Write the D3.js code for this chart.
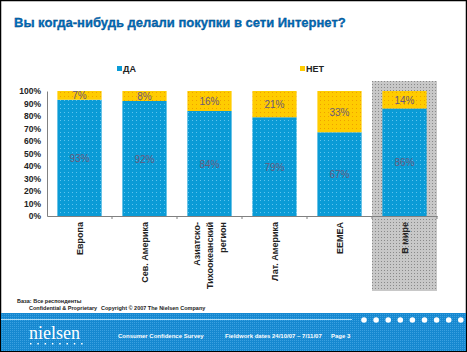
<!DOCTYPE html>
<html><head><meta charset="utf-8">
<script src="https://cdn.jsdelivr.net/npm/d3@7"></script>
<style>body{margin:0;background:#fff}svg{display:block}</style>
</head><body>
<svg id="c" width="467" height="352"></svg>
<script>
const categories = [["Европа"],["Сев. Америка"],["Азиатско-","Тихоокеанский","регион"],["Лат. Америка"],["ЕЕМЕА"],["В мире"]];
const catKeys = ["Европа","Сев. Америка","АТР","Лат. Америка","ЕЕМЕА","В мире"];
const yesValues = [93,92,84,79,67,86];
const noValues = [7,8,16,21,33,14];
const seriesNames = ["ДА","НЕТ"];
const yTicks = [0,10,20,30,40,50,60,70,80,90,100];

const svg = d3.select("#c");
const defs = svg.append("defs");
function dotPattern(id, bg, dot, size){
  const p = defs.append("pattern").attr("id",id).attr("width",size).attr("height",size).attr("patternUnits","userSpaceOnUse");
  p.append("rect").attr("width",size).attr("height",size).attr("fill",bg);
  p.append("rect").attr("x",0).attr("y",0).attr("width",1).attr("height",1).attr("fill",dot);
}
dotPattern("pBlue","#0a9bd6","#5cc4ee",4);
dotPattern("pYellow","#ffcc00","#f0a000",4);
dotPattern("pGrey","#c8c8c8","#8a8a8a",3);
dotPattern("pFoot","#1688d0","#3aa0e0",2);

// border
svg.append("rect").attr("x",0.5).attr("y",0.5).attr("width",466).attr("height",351).attr("fill","none").attr("stroke","#000").attr("stroke-width",1.5);

// title
svg.append("text").attr("x",14).attr("y",27).text("Вы когда-нибудь делали покупки в сети Интернет?")
  .attr("font-family","Arial, Liberation Sans, sans-serif").attr("font-size",13).attr("font-weight","bold")
  .attr("fill","#0070c0").attr("stroke","#003a70").attr("stroke-width",0.3);

const x = d3.scaleBand().domain(catKeys).range([47,437]).paddingInner(0.32).paddingOuter(0.16);
const y = d3.scaleLinear().domain([0,100]).range([216,91]);

// grey highlight for last category
const step = x.step();
const lastStart = x(catKeys[5]) - x.bandwidth()*0.0 - (step - x.bandwidth())/2;
svg.append("rect").attr("x",372).attr("y",81).attr("width",437-372).attr("height",210).attr("fill","url(#pGrey)");

// legend
const leg = svg.append("g").attr("font-family","Arial, Liberation Sans, sans-serif").attr("font-size",9).attr("font-weight","bold").attr("fill","#222");
[[117,"#0a9bd6",seriesNames[0]],[300,"#ffcc00",seriesNames[1]]].forEach(([lx,col,t])=>{
  leg.append("rect").attr("x",lx).attr("y",66).attr("width",5).attr("height",5).attr("fill",col);
  leg.append("text").attr("x",lx+6).attr("y",72).text(t);
});

// bars
const g = svg.append("g");
catKeys.forEach((k,i)=>{
  const bx = x(k), bw = x.bandwidth();
  g.append("rect").attr("x",bx).attr("y",y(yesValues[i])).attr("width",bw).attr("height",y(0)-y(yesValues[i])).attr("fill","url(#pBlue)");
  g.append("rect").attr("x",bx).attr("y",y(100)).attr("width",bw).attr("height",y(yesValues[i])-y(100)).attr("fill","url(#pYellow)");
  g.append("text").attr("x",bx+bw/2).attr("y",(y(yesValues[i])+y(0))/2+4).attr("text-anchor","middle")
    .attr("font-family","Arial, Liberation Sans, sans-serif").attr("font-size",10).attr("fill","#6a5a7a").text(yesValues[i]+"%");
  g.append("text").attr("x",bx+bw/2).attr("y",(y(yesValues[i])+y(100))/2+4).attr("text-anchor","middle")
    .attr("font-family","Arial, Liberation Sans, sans-serif").attr("font-size",10).attr("fill","#6a5a7a").text(noValues[i]+"%");
});

// y axis
const yAxis = svg.append("g").attr("transform","translate(47,0)")
  .call(d3.axisLeft(y).tickValues(yTicks).tickFormat(d=>d+"%").tickSize(0).tickPadding(6));
yAxis.select(".domain").attr("stroke","#808080");
yAxis.selectAll("text").attr("font-family","Arial, Liberation Sans, sans-serif").attr("font-size",8.5).attr("font-weight","bold").attr("fill","#222");

// x axis
const xAxis = svg.append("g").attr("transform","translate(0,216)")
  .call(d3.axisBottom(x).tickSize(0).tickFormat(""));
xAxis.select(".domain").attr("stroke","#808080");
catKeys.forEach((k,i)=>{
  if(i>0){
    const tx = x(k) - (step - x.bandwidth())/2;
    svg.append("line").attr("x1",tx).attr("x2",tx).attr("y1",216).attr("y2",219).attr("stroke","#808080");
  }
});
svg.append("line").attr("x1",437).attr("x2",437).attr("y1",216).attr("y2",219).attr("stroke","#808080");

// x labels rotated
catKeys.forEach((k,i)=>{
  const lines = categories[i];
  const cx = x(k)+x.bandwidth()/2;
  const n = lines.length, lh = 13;
  lines.forEach((ln,j)=>{
    const lx = cx + (j-(n-1)/2)*lh + 3;
    svg.append("text").attr("transform",`translate(${lx},222) rotate(-90)`).attr("text-anchor","end")
      .attr("font-family","Arial, Liberation Sans, sans-serif").attr("font-size",9).attr("font-weight","bold").attr("fill","#222").text(ln);
  });
});

// footnotes
const fn = svg.append("g").attr("font-family","Arial, Liberation Sans, sans-serif").attr("font-size",5.5).attr("font-weight","bold").attr("fill","#222");
fn.append("text").attr("x",17).attr("y",303).text("База: Все респонденты");
fn.append("text").attr("x",29).attr("y",310).text("Confidential & Proprietary");
fn.append("text").attr("x",101).attr("y",310).text("Copyright © 2007 The Nielsen Company");

// footer band
svg.append("rect").attr("x",1).attr("y",313).attr("width",465).attr("height",38).attr("fill","url(#pFoot)");
svg.append("line").attr("x1",1).attr("x2",352).attr("y1",319.5).attr("y2",319.5).attr("stroke","#a8d8f4").attr("stroke-width",1);
d3.range(9).forEach(i=>{
  svg.append("circle").attr("cx",364+i*12.1).attr("cy",320).attr("r",2.8).attr("fill","#fff");
});
svg.append("text").attr("x",29).attr("y",339).text("nielsen").attr("font-family","Liberation Serif, DejaVu Serif, serif").attr("font-size",18).attr("fill","#fff");
d3.range(8).forEach(i=>{
  svg.append("rect").attr("x",30+i*7.3).attr("y",343).attr("width",1.5).attr("height",1.5).attr("fill","#fff");
});
const ft = svg.append("g").attr("font-family","Arial, Liberation Sans, sans-serif").attr("font-size",6).attr("font-weight","bold").attr("fill","#fff");
ft.append("text").attr("x",118).attr("y",338).text("Consumer Confidence Survey");
ft.append("text").attr("x",225).attr("y",338).text("Fieldwork dates 24/10/07 – 7/11/07");
ft.append("text").attr("x",331).attr("y",338).text("Page 3");
</script>
</body></html>
